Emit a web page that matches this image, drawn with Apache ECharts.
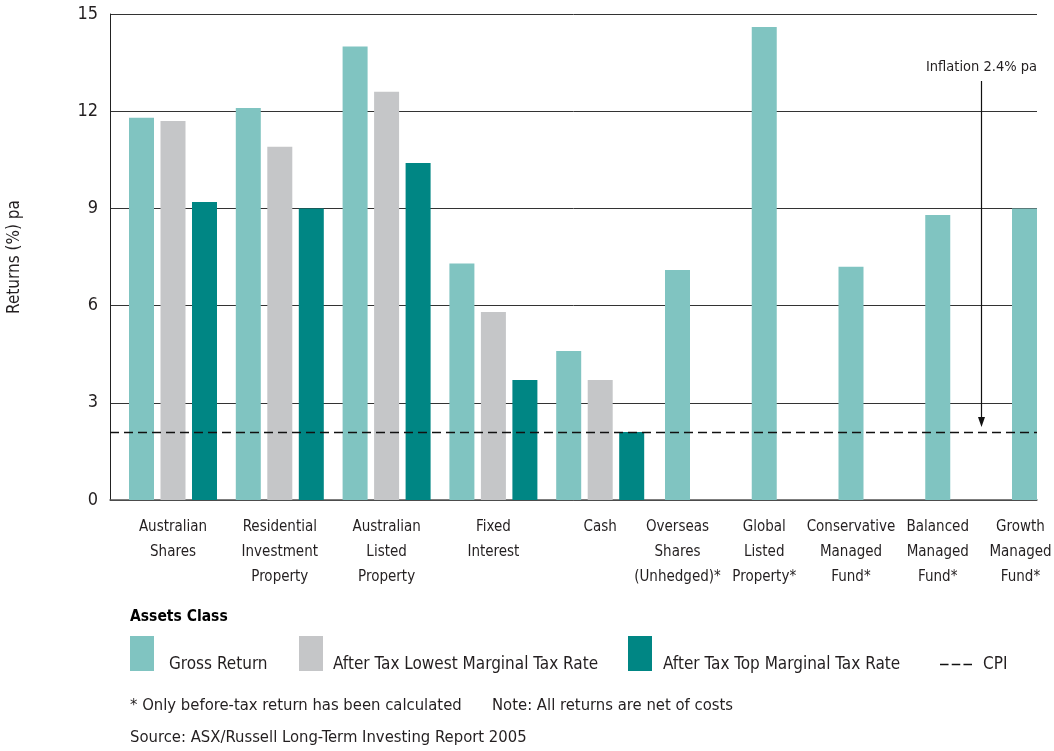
<!DOCTYPE html>
<html>
<head>
<meta charset="utf-8">
<script src="https://cdn.jsdelivr.net/npm/echarts@6/dist/echarts.min.js"></script>
<style>
html,body{margin:0;padding:0;background:#fff;}
#chart{width:1054px;height:751px;}
</style>
</head>
<body>
<div id="chart"></div>
<script>
// ---- data ----
const categories = [
  'Australian\nShares', 'Residential\nInvestment\nProperty', 'Australian\nListed\nProperty',
  'Fixed\nInterest', 'Cash', 'Overseas\nShares\n(Unhedged)*', 'Global\nListed\nProperty*',
  'Conservative\nManaged\nFund*', 'Balanced\nManaged\nFund*', 'Growth\nManaged\nFund*'
];
const grossReturn = [11.8, 12.1, 14.0, 7.3, 4.6, 7.1, 14.6, 7.2, 8.8, 9.0];
const afterTaxLowest = [11.7, 10.9, 12.6, 5.8, 3.7];
const afterTaxTop = [9.2, 9.0, 10.4, 3.7, 2.1];
const cpiValue = 2.1;
const yMin = 0, yMax = 15, yStep = 3;
const seriesNames = ['Gross Return', 'After Tax Lowest Marginal Tax Rate', 'After Tax Top Marginal Tax Rate', 'CPI'];
const annotationText = 'Inflation 2.4% pa';
const footLines = ['Assets Class', '* Only before-tax return has been calculated', 'Note: All returns are net of costs', 'Source: ASX/Russell Long-Term Investing Report 2005'];

// ---- style ----
const FONT = "'DejaVu Sans Condensed', 'Liberation Sans Narrow', 'Arial Narrow', sans-serif";
const C_GROSS = '#80C4C1', C_LOW = '#C5C6C8', C_TOP = '#008684';
const TXT = '#231f20';

const nTax = afterTaxLowest.length;
const catsA = categories.slice(0, nTax), catsB = categories.slice(nTax);

const chart = echarts.init(document.getElementById('chart'), null, {renderer: 'canvas'});

const gridTop = 14, gridH = 486;
const hiddenY = (idx) => ({type: 'value', gridIndex: idx, min: yMin, max: yMax, interval: yStep, show: false});
const catAxis = (idx, data, bgap, lastShift) => ({
  type: 'category', gridIndex: idx, data: data, boundaryGap: bgap,
  axisLine: {show: false}, axisTick: {show: false},
  axisLabel: {interval: 0, fontFamily: FONT, fontSize: 15, lineHeight: 25, color: TXT, margin: 15,
    formatter: (v, i) => (lastShift && i === data.length - 1)
      ? v.split('\n').map(s => '{r|' + s + '}').join('\n') : v,
    rich: {r: {fontFamily: FONT, fontSize: 15, lineHeight: 25, color: TXT, padding: [0, lastShift || 0, 0, 0]}}}
});
const legendRich = (padLeft) => ({
  formatter: (n) => '{t|' + n + '}',
  textStyle: {rich: {t: {fontFamily: FONT, fontSize: 17, color: TXT, padding: [22, 0, 0, padLeft]}}}
});

const option = {
  animation: false,
  backgroundColor: '#fff',
  textStyle: {fontFamily: FONT},
  grid: [
    {left: 110, top: gridTop, width: 927, height: gridH, outerBoundsMode: 'none'},
    {left: 119.6, top: gridTop, width: 534, height: gridH, outerBoundsMode: 'none'},
    {left: 677.5, top: gridTop, width: 347, height: gridH, outerBoundsMode: 'none'}
  ],
  xAxis: [
    {type: 'category', gridIndex: 0, data: [''], axisLine: {show: true, lineStyle: {color: '#555', width: 1.5}},
     axisTick: {show: false}, axisLabel: {show: false}, splitLine: {show: false}},
    catAxis(1, catsA, true, 0),
    catAxis(2, catsB, false, 8)
  ],
  yAxis: [
    {type: 'value', gridIndex: 0, min: yMin, max: yMax, interval: yStep,
     name: 'Returns (%) pa', nameLocation: 'middle', nameGap: 87,
     nameTextStyle: {fontFamily: FONT, fontSize: 17, color: TXT},
     axisLine: {show: true, lineStyle: {color: '#222', width: 1}},
     axisTick: {show: false},
     axisLabel: {fontFamily: FONT, fontSize: 18, color: TXT, margin: 12},
     splitLine: {show: true, lineStyle: {color: '#333', width: 1}}},
    hiddenY(1), hiddenY(2)
  ],
  legend: [
    Object.assign({data: [{name: seriesNames[0], icon: 'rect'}], left: 130, top: 636, padding: 0, itemWidth: 24, itemHeight: 35, selectedMode: false}, legendRich(10)),
    Object.assign({data: [{name: seriesNames[1], icon: 'rect'}], left: 299, top: 636, padding: 0, itemWidth: 24, itemHeight: 35, selectedMode: false}, legendRich(5)),
    Object.assign({data: [{name: seriesNames[2], icon: 'rect'}], left: 628, top: 636, padding: 0, itemWidth: 24, itemHeight: 35, selectedMode: false}, legendRich(6)),
    {data: [{name: seriesNames[3], icon: 'path://M0,0H8V1.4H0Z M11,0H19V1.4H11Z M22,0H30V1.4H22Z'}],
     left: 940, top: 656, padding: 0, itemWidth: 32, itemHeight: 14, selectedMode: false,
     itemStyle: {color: '#111'},
     textStyle: {fontFamily: FONT, fontSize: 17, color: TXT, padding: [0, 0, 0, 6]}}
  ],
  series: [
    {name: seriesNames[0], type: 'bar', xAxisIndex: 1, yAxisIndex: 1, data: grossReturn.slice(0, nTax),
     barWidth: 25, barGap: '26%', itemStyle: {color: C_GROSS}},
    {name: seriesNames[1], type: 'bar', xAxisIndex: 1, yAxisIndex: 1, data: afterTaxLowest,
     barWidth: 25, barGap: '26%', itemStyle: {color: C_LOW}},
    {name: seriesNames[2], type: 'bar', xAxisIndex: 1, yAxisIndex: 1, data: afterTaxTop,
     barWidth: 25, barGap: '26%', itemStyle: {color: C_TOP}},
    {name: seriesNames[0], type: 'bar', xAxisIndex: 2, yAxisIndex: 2, data: grossReturn.slice(nTax),
     barWidth: 25, itemStyle: {color: C_GROSS}},
    {name: seriesNames[3], type: 'line', xAxisIndex: 0, yAxisIndex: 0, data: [], symbol: 'none', z: 5,
     itemStyle: {color: '#111'},
     lineStyle: {color: '#111', type: [9, 5], width: 1.3},
     markLine: {silent: true, symbol: 'none', label: {show: false}, z: 5,
       lineStyle: {color: '#111', type: [9, 5], width: 1.3},
       data: [{yAxis: cpiValue}]}}
  ]
};
chart.setOption(option);

// annotation arrow pointing to CPI line
const xa = chart.convertToPixel({xAxisIndex: 2}, catsB[3]);
const xb = chart.convertToPixel({xAxisIndex: 2}, catsB[4]);
const ax = Math.round((xa + xb) / 2) + 0.5;
const yCpi = chart.convertToPixel({yAxisIndex: 0}, cpiValue);
const yTop = gridTop + 67;
const tipY = yCpi - 5;
chart.setOption({
  graphic: [
    {type: 'line', shape: {x1: ax, y1: yTop, x2: ax, y2: tipY - 8}, style: {stroke: '#111', lineWidth: 1.2}, z: 10},
    {type: 'polygon', shape: {points: [[ax - 3.5, tipY - 10], [ax + 3.5, tipY - 10], [ax, tipY]]}, style: {fill: '#111'}, z: 10},
    {type: 'text', x: ax, y: 67, style: {text: annotationText, align: 'center', verticalAlign: 'middle', font: '14.5px ' + FONT, fill: TXT}, z: 10},
    {type: 'text', left: 130, top: 609, style: {text: footLines[0], font: 'bold 15.5px ' + FONT, fill: '#000'}},
    {type: 'text', left: 130, top: 697, style: {text: footLines[1], font: '16.5px ' + FONT, fill: TXT}},
    {type: 'text', left: 492, top: 697, style: {text: footLines[2], font: '16.5px ' + FONT, fill: TXT}},
    {type: 'text', left: 130, top: 729, style: {text: footLines[3], font: '16.5px ' + FONT, fill: TXT}}
  ]
});
</script>
</body>
</html>
